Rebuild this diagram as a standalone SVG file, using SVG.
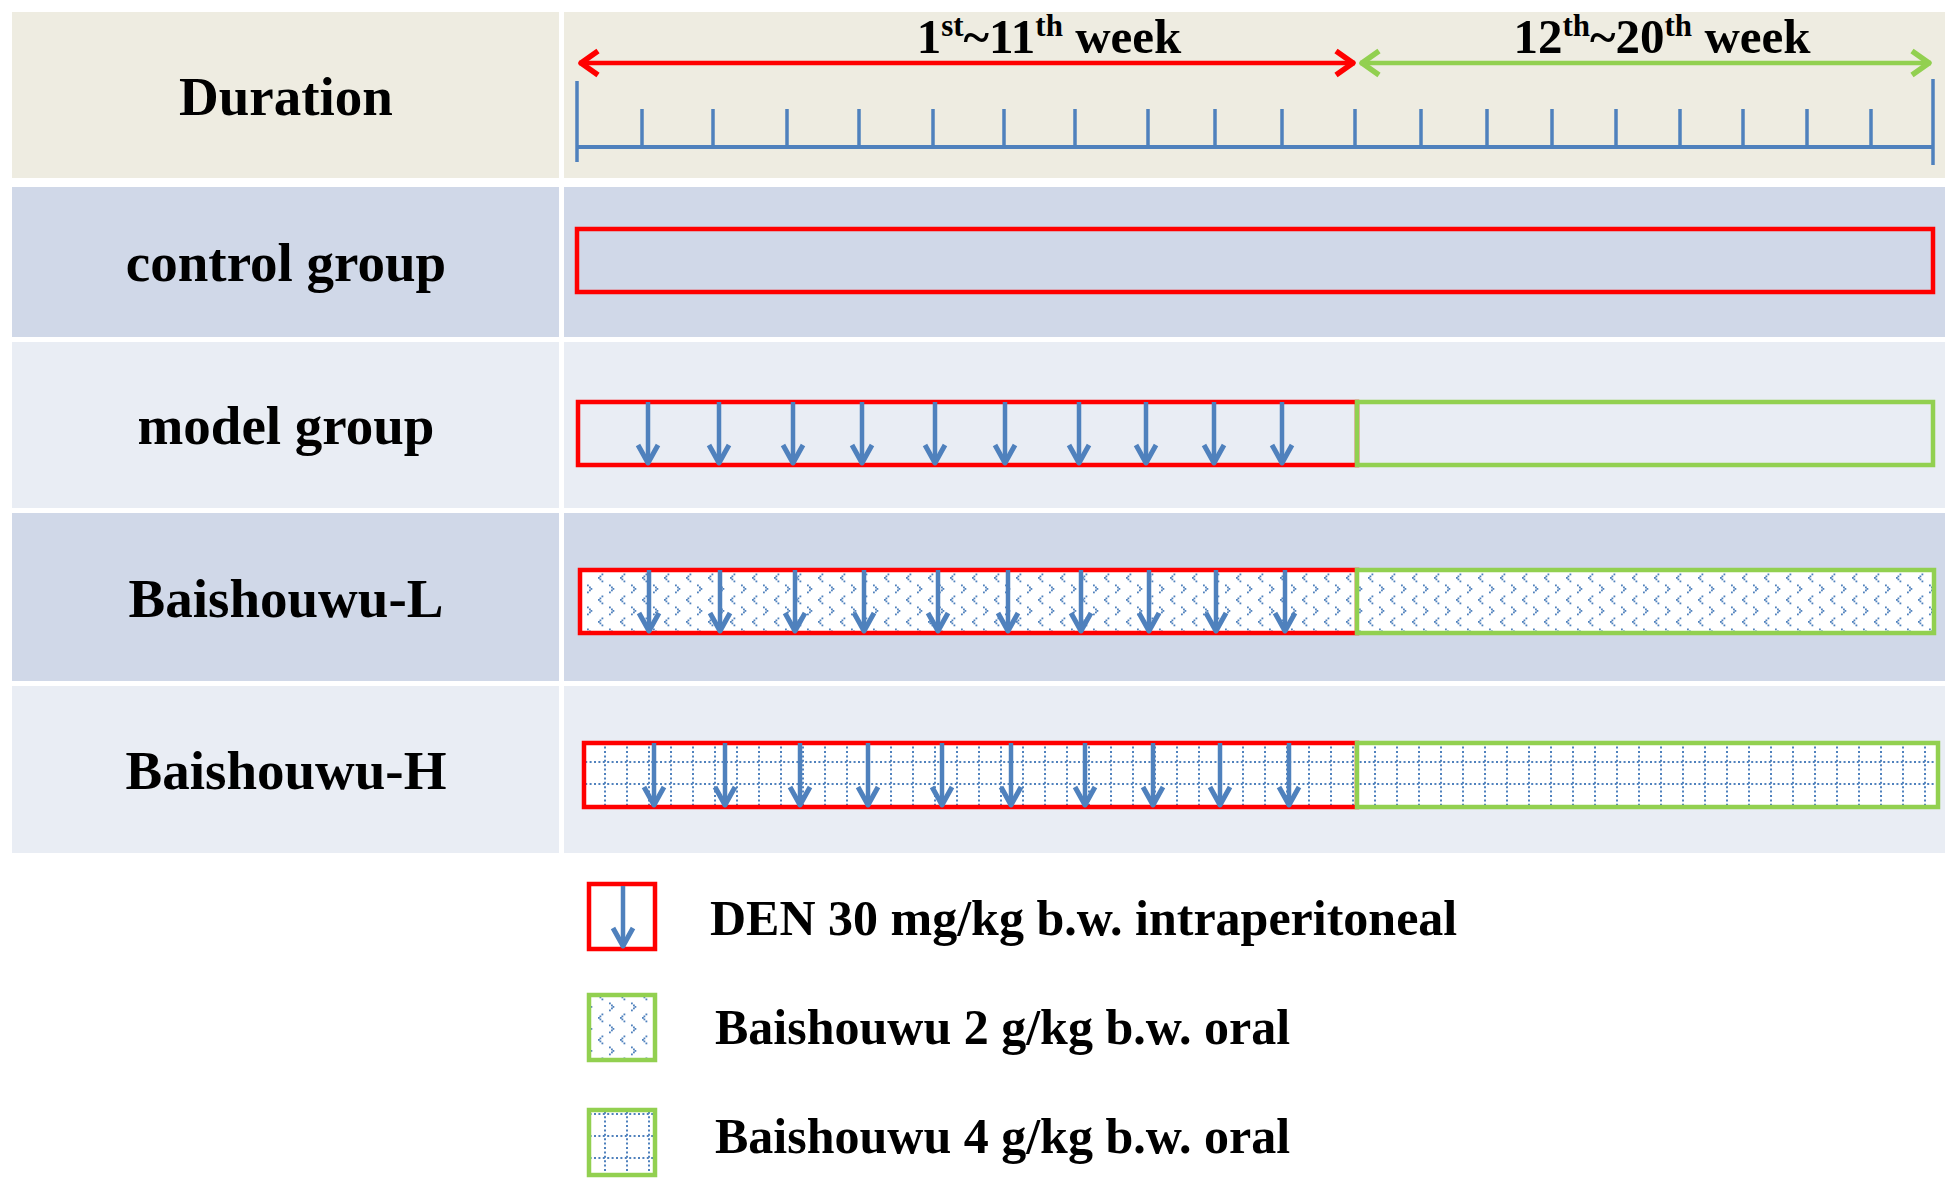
<svg xmlns="http://www.w3.org/2000/svg" width="1958" height="1190" viewBox="0 0 1958 1190">
<style>
.lbl{font-family:"Liberation Serif","Times New Roman",serif;font-weight:bold;font-size:55px;fill:#000;text-anchor:middle}
.wk{font-family:"Liberation Serif","Times New Roman",serif;font-weight:bold;font-size:49px;fill:#000;text-anchor:middle}
.leg{font-family:"Liberation Serif","Times New Roman",serif;font-weight:bold;font-size:50px;fill:#000}
.beige{fill:#EEECE1}
.dark{fill:#D0D8E8}
.light{fill:#E9EDF4}
.red{fill:none;stroke:#FF0000;stroke-width:4.5}
.grn{fill:none;stroke:#92D050;stroke-width:4.5}
.tick{stroke:#4F81BD;stroke-width:3.5}
.den{stroke:#4F81BD;stroke-width:4.5;marker-end:url(#dhead)}
</style>
<defs>
<marker id="dhead" markerUnits="userSpaceOnUse" orient="auto" refX="0" refY="0" markerWidth="40" markerHeight="40" style="overflow:visible">
<path d="M-19,-10 L-1,0 L-19,10" fill="none" stroke="#4F81BD" stroke-width="5" stroke-linejoin="round"/>
</marker>
<marker id="rhead" markerUnits="userSpaceOnUse" orient="auto-start-reverse" refX="0" refY="0" markerWidth="40" markerHeight="40" style="overflow:visible">
<path d="M-19,-12 L-2,0 L-19,12" fill="none" stroke="#FF0000" stroke-width="5.5" stroke-linejoin="round"/>
</marker>
<marker id="ghead" markerUnits="userSpaceOnUse" orient="auto-start-reverse" refX="0" refY="0" markerWidth="40" markerHeight="40" style="overflow:visible">
<path d="M-19,-12 L-2,0 L-19,12" fill="none" stroke="#92D050" stroke-width="5.5" stroke-linejoin="round"/>
</marker>
<pattern id="divot" patternUnits="userSpaceOnUse" width="22" height="22">
<rect width="22" height="22" fill="#fff"/>
<g fill="#4F81BD">
<rect x="7.5" y="1.5" width="1.8" height="1.8"/><rect x="5.5" y="3.5" width="1.8" height="1.8"/><rect x="4" y="5" width="1.8" height="1.8"/><rect x="5.5" y="6.5" width="1.8" height="1.8"/><rect x="7.5" y="8.5" width="1.8" height="1.8"/>
<rect x="15" y="12.5" width="1.8" height="1.8"/><rect x="17" y="14.5" width="1.8" height="1.8"/><rect x="18.5" y="16" width="1.8" height="1.8"/><rect x="17" y="17.5" width="1.8" height="1.8"/><rect x="15" y="19.5" width="1.8" height="1.8"/>
</g>
</pattern>
<pattern id="grid" patternUnits="userSpaceOnUse" width="22" height="22" y="3">
<rect width="22" height="22" fill="#fff"/>
<line x1="0" y1="11" x2="22" y2="11" stroke="#4F81BD" stroke-width="2" stroke-dasharray="2 2.4"/>
<line x1="11" y1="0" x2="11" y2="22" stroke="#4F81BD" stroke-width="2" stroke-dasharray="2 2.4"/>
</pattern>
</defs>
<rect width="1958" height="1190" fill="#fff"/>

<g id="row-duration">
<rect class="beige" x="12" y="12" width="547" height="166"/>
<rect class="beige" x="564" y="12" width="1381" height="166"/>
<text class="lbl" x="286" y="115">Duration</text>
<text class="wk" x="1049" y="53">1<tspan font-size="31" dy="-17">st</tspan><tspan dy="17">~11</tspan><tspan font-size="31" dy="-17">th</tspan><tspan dy="17"> week</tspan></text>
<text class="wk" x="1662" y="53">12<tspan font-size="31" dy="-17">th</tspan><tspan dy="17">~20</tspan><tspan font-size="31" dy="-17">th</tspan><tspan dy="17"> week</tspan></text>
<g id="axis">
<line x1="577" y1="147" x2="1933" y2="147" stroke="#4F81BD" stroke-width="4"/>
<line class="tick" x1="577" y1="81" x2="577" y2="162"/>
<line class="tick" x1="1933" y1="79" x2="1933" y2="165"/>
<path class="tick" fill="none" d="M642,109V147M713,109V147M787,109V147M859,109V147M933,109V147M1004,109V147M1075,109V147M1148,109V147M1215,109V147M1282,109V147M1355,109V147M1421,109V147M1487,109V147M1552,109V147M1616,109V147M1680,109V147M1743,109V147M1807,109V147M1871,109V147"/>
</g>
</g>

<g id="row-control">
<rect class="dark" x="12" y="187" width="547" height="150"/>
<rect class="dark" x="564" y="187" width="1381" height="150"/>
<text class="lbl" x="286" y="281">control group</text>
<rect class="red" x="577" y="229" width="1356" height="63"/>
</g>

<g id="row-model">
<rect class="light" x="12" y="342" width="547" height="166"/>
<rect class="light" x="564" y="342" width="1381" height="166"/>
<text class="lbl" x="286" y="444">model group</text>
<rect class="red" x="578" y="402" width="779" height="63"/>
<rect class="grn" x="1357" y="402" width="576" height="63"/>
<path class="den" d="M648,402V464"/><path class="den" d="M719,402V464"/><path class="den" d="M793,402V464"/><path class="den" d="M862,402V464"/><path class="den" d="M935,402V464"/><path class="den" d="M1005,402V464"/><path class="den" d="M1079,402V464"/><path class="den" d="M1146,402V464"/><path class="den" d="M1214,402V464"/><path class="den" d="M1282,402V464"/>
</g>

<g id="row-baishouwu-l">
<rect class="dark" x="12" y="513" width="547" height="168"/>
<rect class="dark" x="564" y="513" width="1381" height="168"/>
<text class="lbl" x="286" y="617">Baishouwu-L</text>
<rect x="580" y="570" width="777" height="63" fill="url(#divot)" stroke="#FF0000" stroke-width="4.5"/>
<rect x="1357" y="570" width="577" height="63" fill="url(#divot)" stroke="#92D050" stroke-width="4.5"/>
<path class="den" d="M649,570V632"/><path class="den" d="M720,570V632"/><path class="den" d="M795,570V632"/><path class="den" d="M864,570V632"/><path class="den" d="M938,570V632"/><path class="den" d="M1008,570V632"/><path class="den" d="M1081,570V632"/><path class="den" d="M1149,570V632"/><path class="den" d="M1216,570V632"/><path class="den" d="M1285,570V632"/>
</g>

<g id="row-baishouwu-h">
<rect class="light" x="12" y="686" width="547" height="167"/>
<rect class="light" x="564" y="686" width="1381" height="167"/>
<text class="lbl" x="286" y="789">Baishouwu-H</text>
<rect x="584" y="743" width="773" height="64" fill="url(#grid)" stroke="#FF0000" stroke-width="4.5"/>
<rect x="1357" y="743" width="581" height="64" fill="url(#grid)" stroke="#92D050" stroke-width="4.5"/>
<path class="den" d="M654,743V806"/><path class="den" d="M725,743V806"/><path class="den" d="M800,743V806"/><path class="den" d="M868,743V806"/><path class="den" d="M942,743V806"/><path class="den" d="M1011,743V806"/><path class="den" d="M1085,743V806"/><path class="den" d="M1153,743V806"/><path class="den" d="M1220,743V806"/><path class="den" d="M1289,743V806"/>
</g>

<g id="connectors">
<line x1="579" y1="63" x2="1355" y2="63" stroke="#FF0000" stroke-width="4.5" marker-start="url(#rhead)" marker-end="url(#rhead)"/>
<line x1="1360" y1="63" x2="1931" y2="63" stroke="#92D050" stroke-width="4.5" marker-start="url(#ghead)" marker-end="url(#ghead)"/>
</g>

<g id="legend-den">
<rect x="589" y="884" width="66" height="65" fill="#fff" stroke="#FF0000" stroke-width="4.5"/>
<path class="den" d="M623,886V947"/>
<text class="leg" x="710" y="935">DEN 30 mg/kg b.w. intraperitoneal</text>
</g>
<g id="legend-low">
<rect x="589" y="995" width="66" height="65" fill="url(#divot)" stroke="#92D050" stroke-width="4.5"/>
<text class="leg" x="715" y="1044">Baishouwu 2 g/kg b.w. oral</text>
</g>
<g id="legend-high">
<rect x="589" y="1110" width="66" height="65" fill="url(#grid)" stroke="#92D050" stroke-width="4.5"/>
<text class="leg" x="715" y="1153">Baishouwu 4 g/kg b.w. oral</text>
</g>
</svg>
